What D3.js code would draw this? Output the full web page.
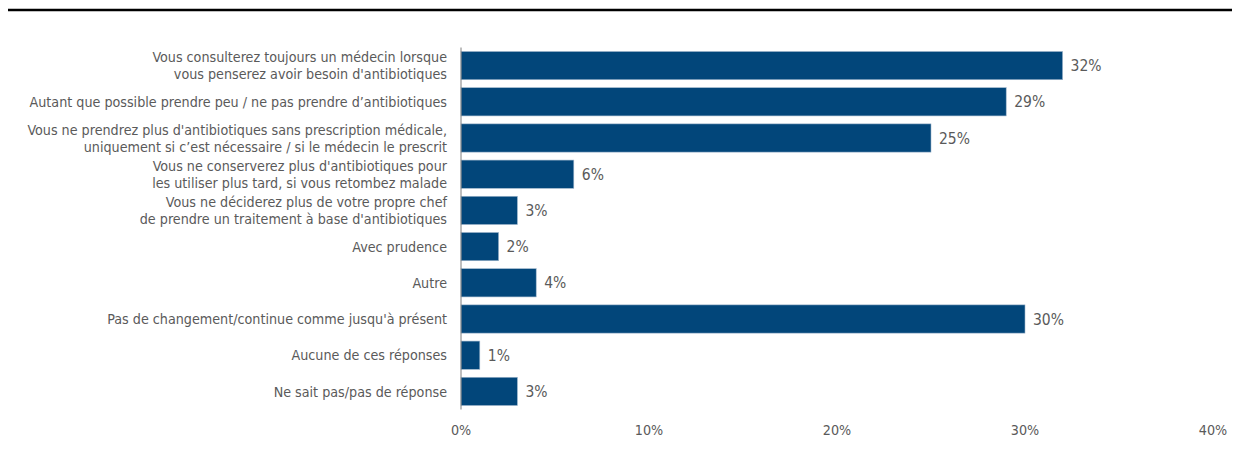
<!DOCTYPE html>
<html>
<head>
<meta charset="utf-8">
<script src="https://cdn.jsdelivr.net/npm/d3@7"></script>
<style>
  body { margin: 0; background: #fff; }
  text { font-family: "DejaVu Sans Condensed", "DejaVu Sans", sans-serif; fill: #5a5a5a; }
</style>
</head>
<body>
<svg id="chart" width="1244" height="468"></svg>
<script>
// Answer categories (line breaks as in the source)
var categories = [
    ["Vous consulterez toujours un médecin lorsque", "vous penserez avoir besoin d'antibiotiques"],
    ["Autant que possible prendre peu / ne pas prendre d\u2019antibiotiques"],
    ["Vous ne prendrez plus d'antibiotiques sans prescription médicale,", "uniquement si c\u2019est nécessaire / si le médecin le prescrit"],
    ["Vous ne conserverez plus d'antibiotiques pour", "les utiliser plus tard, si vous retombez malade"],
    ["Vous ne déciderez plus de votre propre chef", "de prendre un traitement à base d'antibiotiques"],
    ["Avec prudence"],
    ["Autre"],
    ["Pas de changement/continue comme jusqu'à présent"],
    ["Aucune de ces réponses"],
    ["Ne sait pas/pas de réponse"]
];
var values = [32, 29, 25, 6, 3, 2, 4, 30, 1, 3];
var ticks = [0, 10, 20, 30, 40];

var svg = d3.select("#chart");

// top rule
svg.append("line")
    .attr("x1", 8).attr("x2", 1232)
    .attr("y1", 10).attr("y2", 10)
    .attr("stroke", "#000").attr("stroke-width", 2.5);

var x = d3.scaleLinear().domain([0, 40]).range([461, 1213]);
var y = d3.scaleBand()
    .domain(d3.range(values.length))
    .range([47.5, 409.5])
    .paddingInner(0.22)
    .paddingOuter(0.11);

// Bars
svg.selectAll("rect.bar")
    .data(values)
    .enter()
    .append("rect")
    .attr("class", "bar")
    .attr("x", x(0))
    .attr("y", function (d, i) { return y(i); })
    .attr("width", function (d) { return x(d) - x(0); })
    .attr("height", y.bandwidth())
    .attr("fill", "#02467a")
    .attr("stroke", "#9fb6cc")
    .attr("stroke-width", 0.6);

// Value labels
svg.selectAll("text.value")
    .data(values)
    .enter()
    .append("text")
    .attr("class", "value")
    .attr("x", function (d) { return x(d) + 8; })
    .attr("y", function (d, i) { return y(i) + y.bandwidth() / 2; })
    .attr("dy", "0.36em")
    .style("font-size", "15.5px")
    .text(function (d) { return d + "%"; });

// Category labels
categories.forEach(function (lines, i) {
    var cy = y(i) + y.bandwidth() / 2;
    var lh = 17;
    var t = svg.append("text")
        .attr("text-anchor", "end")
        .style("font-size", "14.2px");
    lines.forEach(function (line, j) {
        t.append("tspan")
            .attr("x", 447)
            .attr("y", cy + (j - (lines.length - 1) / 2) * lh)
            .attr("dy", "0.36em")
            .text(line);
    });
});

// Axis line
svg.append("line")
    .attr("x1", x(0)).attr("x2", x(0))
    .attr("y1", y.range()[0]).attr("y2", y.range()[1])
    .attr("stroke", "#7f7f7f").attr("stroke-width", 1);

// Tick labels
svg.selectAll("text.tick")
    .data(ticks)
    .enter()
    .append("text")
    .attr("class", "tick")
    .attr("x", function (d) { return x(d); })
    .attr("y", 430)
    .attr("dy", "0.36em")
    .attr("text-anchor", "middle")
    .style("font-size", "14.2px")
    .text(function (d) { return d + "%"; });
</script>
</body>
</html>
